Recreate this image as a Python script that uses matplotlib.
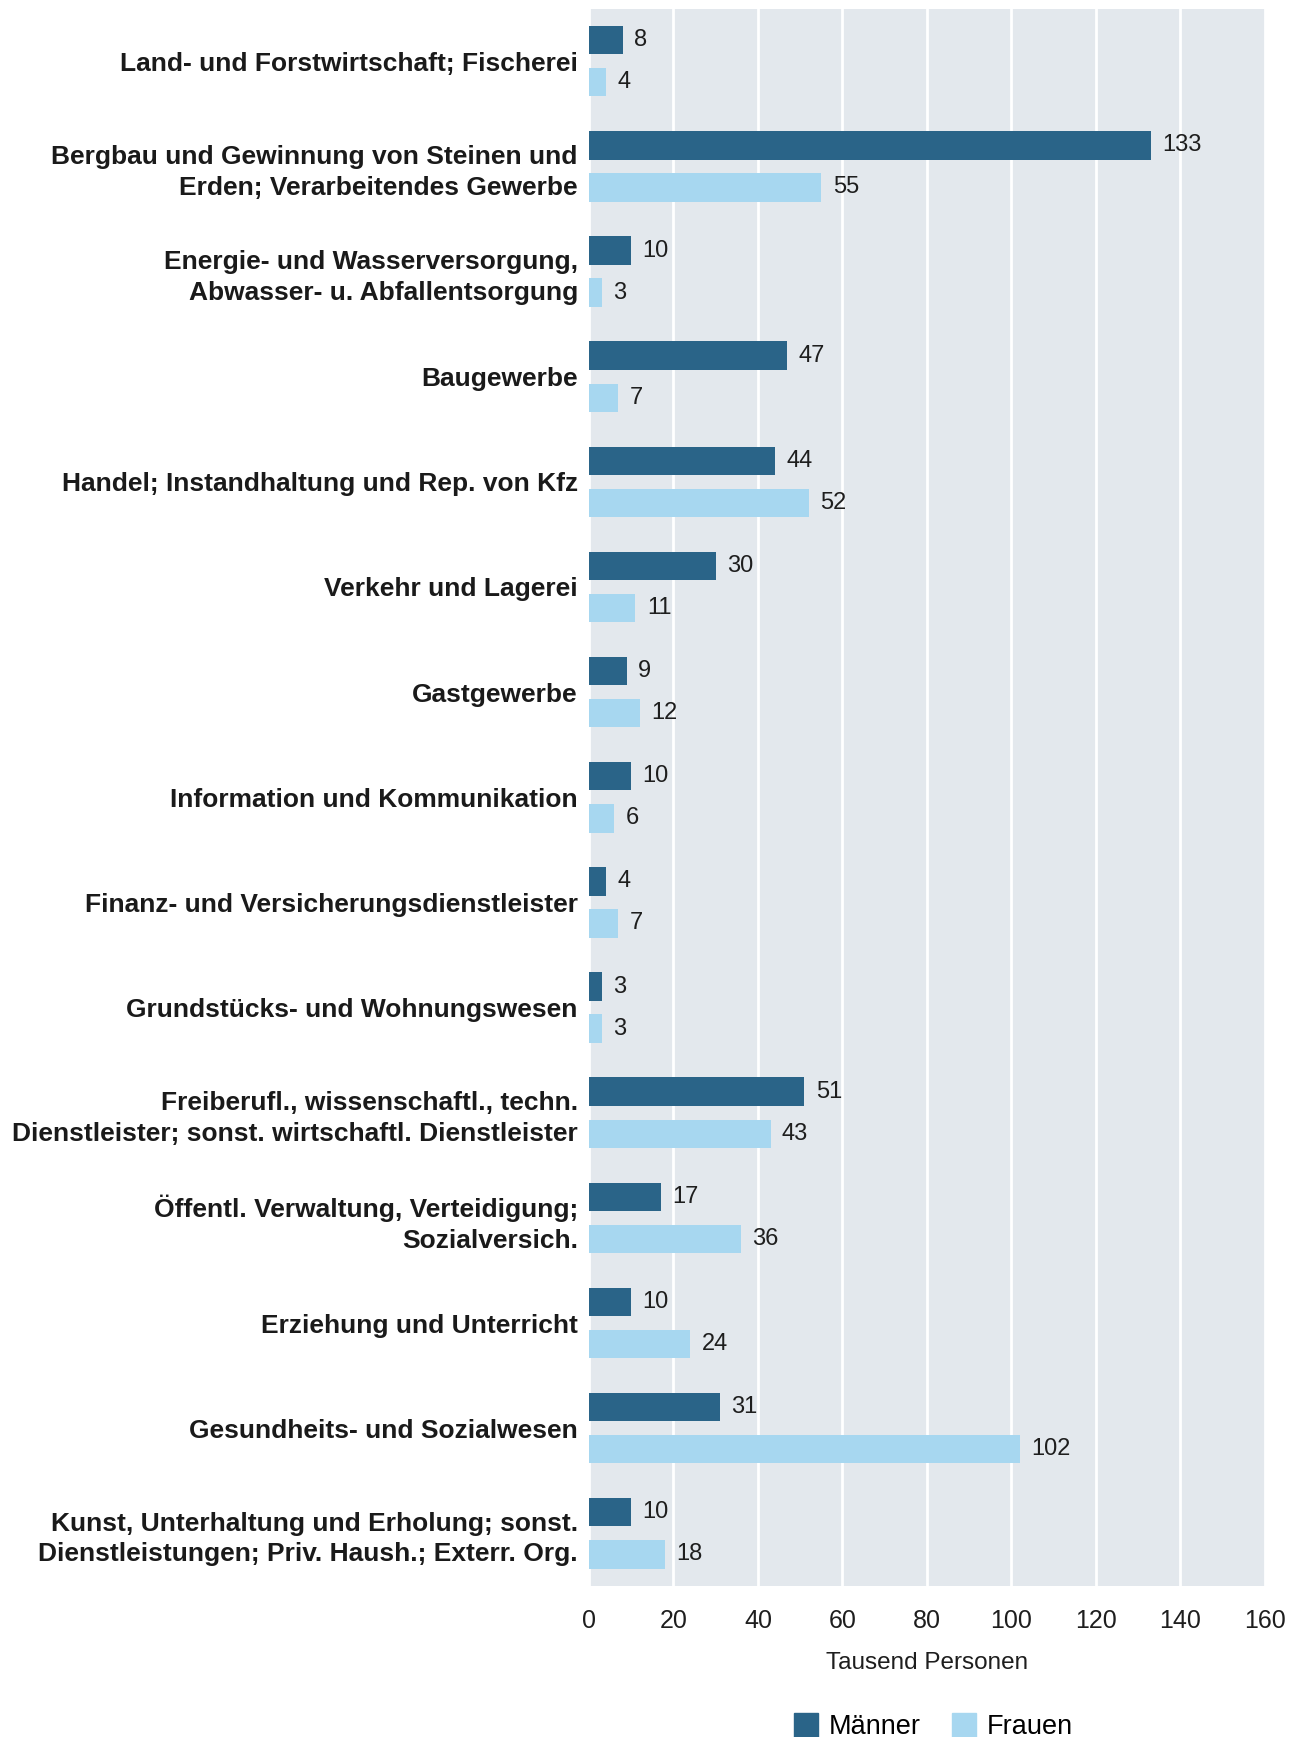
import numpy as np
import matplotlib.pyplot as plt
from matplotlib.patches import Patch

plt.rcParams['font.family'] = ['Liberation Sans', 'DejaVu Sans']

categories = [
    'Land- und Forstwirtschaft; Fischerei',
    'Bergbau und Gewinnung von Steinen und\nErden; Verarbeitendes Gewerbe',
    'Energie- und Wasserversorgung,\nAbwasser- u. Abfallentsorgung',
    'Baugewerbe',
    'Handel; Instandhaltung und Rep. von Kfz',
    'Verkehr und Lagerei',
    'Gastgewerbe',
    'Information und Kommunikation',
    'Finanz- und Versicherungsdienstleister',
    'Grundstücks- und Wohnungswesen',
    'Freiberufl., wissenschaftl., techn.\nDienstleister; sonst. wirtschaftl. Dienstleister',
    'Öffentl. Verwaltung, Verteidigung;\nSozialversich.',
    'Erziehung und Unterricht',
    'Gesundheits- und Sozialwesen',
    'Kunst, Unterhaltung und Erholung; sonst.\nDienstleistungen; Priv. Haush.; Exterr. Org.',
]
maenner = [8, 133, 10, 47, 44, 30, 9, 10, 4, 3, 51, 17, 10, 31, 10]
frauen = [4, 55, 3, 7, 52, 11, 12, 6, 7, 3, 43, 36, 24, 102, 18]
xticks = [0, 20, 40, 60, 80, 100, 120, 140, 160]

c_m = '#2a6488'
c_f = '#a7d7f0'
bg = '#e3e8ed'

fig = plt.figure(figsize=(13, 17.37), dpi=100)
ax = fig.add_axes([0.453, 0.087, 0.52, 0.908])
ax.set_facecolor(bg)

y = np.arange(len(categories))
h = 0.27
ax.barh(y - 0.2, maenner, height=h, color=c_m, label='Männer', zorder=3)
ax.barh(y + 0.2, frauen, height=h, color=c_f, label='Frauen', zorder=3)

for yi, v in zip(y, maenner):
    ax.text(v + 2.7, yi - 0.2, str(v), va='center', ha='left', fontsize=17, color='#1e1e1e')
for yi, v in zip(y, frauen):
    ax.text(v + 2.7, yi + 0.2, str(v), va='center', ha='left', fontsize=17, color='#1e1e1e')

ax.set_ylim(len(categories) - 0.5, -0.5)
ax.set_xlim(0, 160)
ax.set_xticks(xticks)
ax.set_xticklabels([str(t) for t in xticks], fontsize=18, color='#1e1e1e')
ax.set_yticks(y)
ax.set_yticklabels(categories, fontsize=19, fontweight='bold', color='#1a1a1a',
                   linespacing=1.35)
ax.tick_params(axis='both', length=0)
ax.tick_params(axis='x', pad=17)
ax.tick_params(axis='y', pad=8)
ax.grid(axis='x', color='white', linewidth=2, zorder=1)
for s in ax.spines.values():
    s.set_visible(False)

ax.set_xlabel('Tausend Personen', fontsize=17.5, color='#1e1e1e', labelpad=13)

handles = [Patch(color=c_m, label='Männer'), Patch(color=c_f, label='Frauen')]
fig.legend(handles=handles, loc='lower center', bbox_to_anchor=(0.718, -0.016), ncol=2,
           frameon=False, fontsize=19.5, handlelength=0.9, handleheight=0.95,
           handletextpad=0.4, columnspacing=1.15)

fig.savefig('out.png', dpi=100)
